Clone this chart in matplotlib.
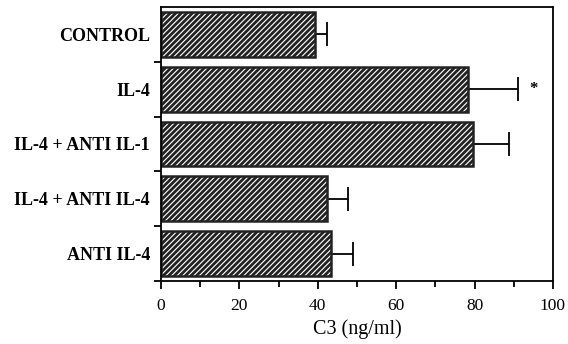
import numpy as np
import matplotlib
matplotlib.use("Agg")
import matplotlib.pyplot as plt
from matplotlib.ticker import MultipleLocator

groups = ["CONTROL", "IL-4", "IL-4 + ANTI IL-1", "IL-4 + ANTI IL-4", "ANTI IL-4"]
c3 = [39.2, 78.2, 79.5, 42.4, 43.3]
err = [3.1, 13.0, 9.2, 5.3, 5.7]
star_group = "IL-4"
star_x = 95

plt.rcParams['font.family'] = ['Liberation Serif', 'DejaVu Serif']
plt.rcParams['hatch.linewidth'] = 2.0

fig = plt.figure(figsize=(5.68, 3.44), dpi=100)
ax = fig.add_axes([0.2835, 0.1831, 0.69, 0.7966])

y = np.arange(len(groups))
ax.barh(y, c3, height=0.82, color='white', edgecolor='#222222',
        hatch='//////', linewidth=1.8, zorder=2)
ax.errorbar(c3, y, xerr=[np.zeros(len(err)), err], fmt='none',
            ecolor='black', elinewidth=1.3, capsize=8.5, capthick=1.3, zorder=1)
ax.text(star_x, groups.index(star_group), '*', ha='center', va='center',
        fontsize=12, fontweight='bold')

ax.set_xlim(0, 100)
ax.set_ylim(len(groups) - 0.5, -0.5)
ax.set_yticks(y)
ax.set_yticklabels(groups, fontsize=13, fontweight='bold')
ax.tick_params(axis='y', length=0, pad=8)
# boundary ticks on the left spine
ax.set_yticks(np.arange(len(groups)) + 0.5, minor=True)
ax.tick_params(axis='y', which='minor', length=5, width=1.3, direction='out')

ax.xaxis.set_major_locator(MultipleLocator(20))
ax.xaxis.set_minor_locator(MultipleLocator(10))
ax.tick_params(axis='x', which='major', length=6, width=1.3, labelsize=12.5, pad=6)
ax.tick_params(axis='x', which='minor', length=4, width=1.3)
ax.set_xlabel('C3 (ng/ml)', fontsize=14.5, labelpad=4)

for s in ax.spines.values():
    s.set_linewidth(1.3)

fig.savefig('out.png', dpi=100)
